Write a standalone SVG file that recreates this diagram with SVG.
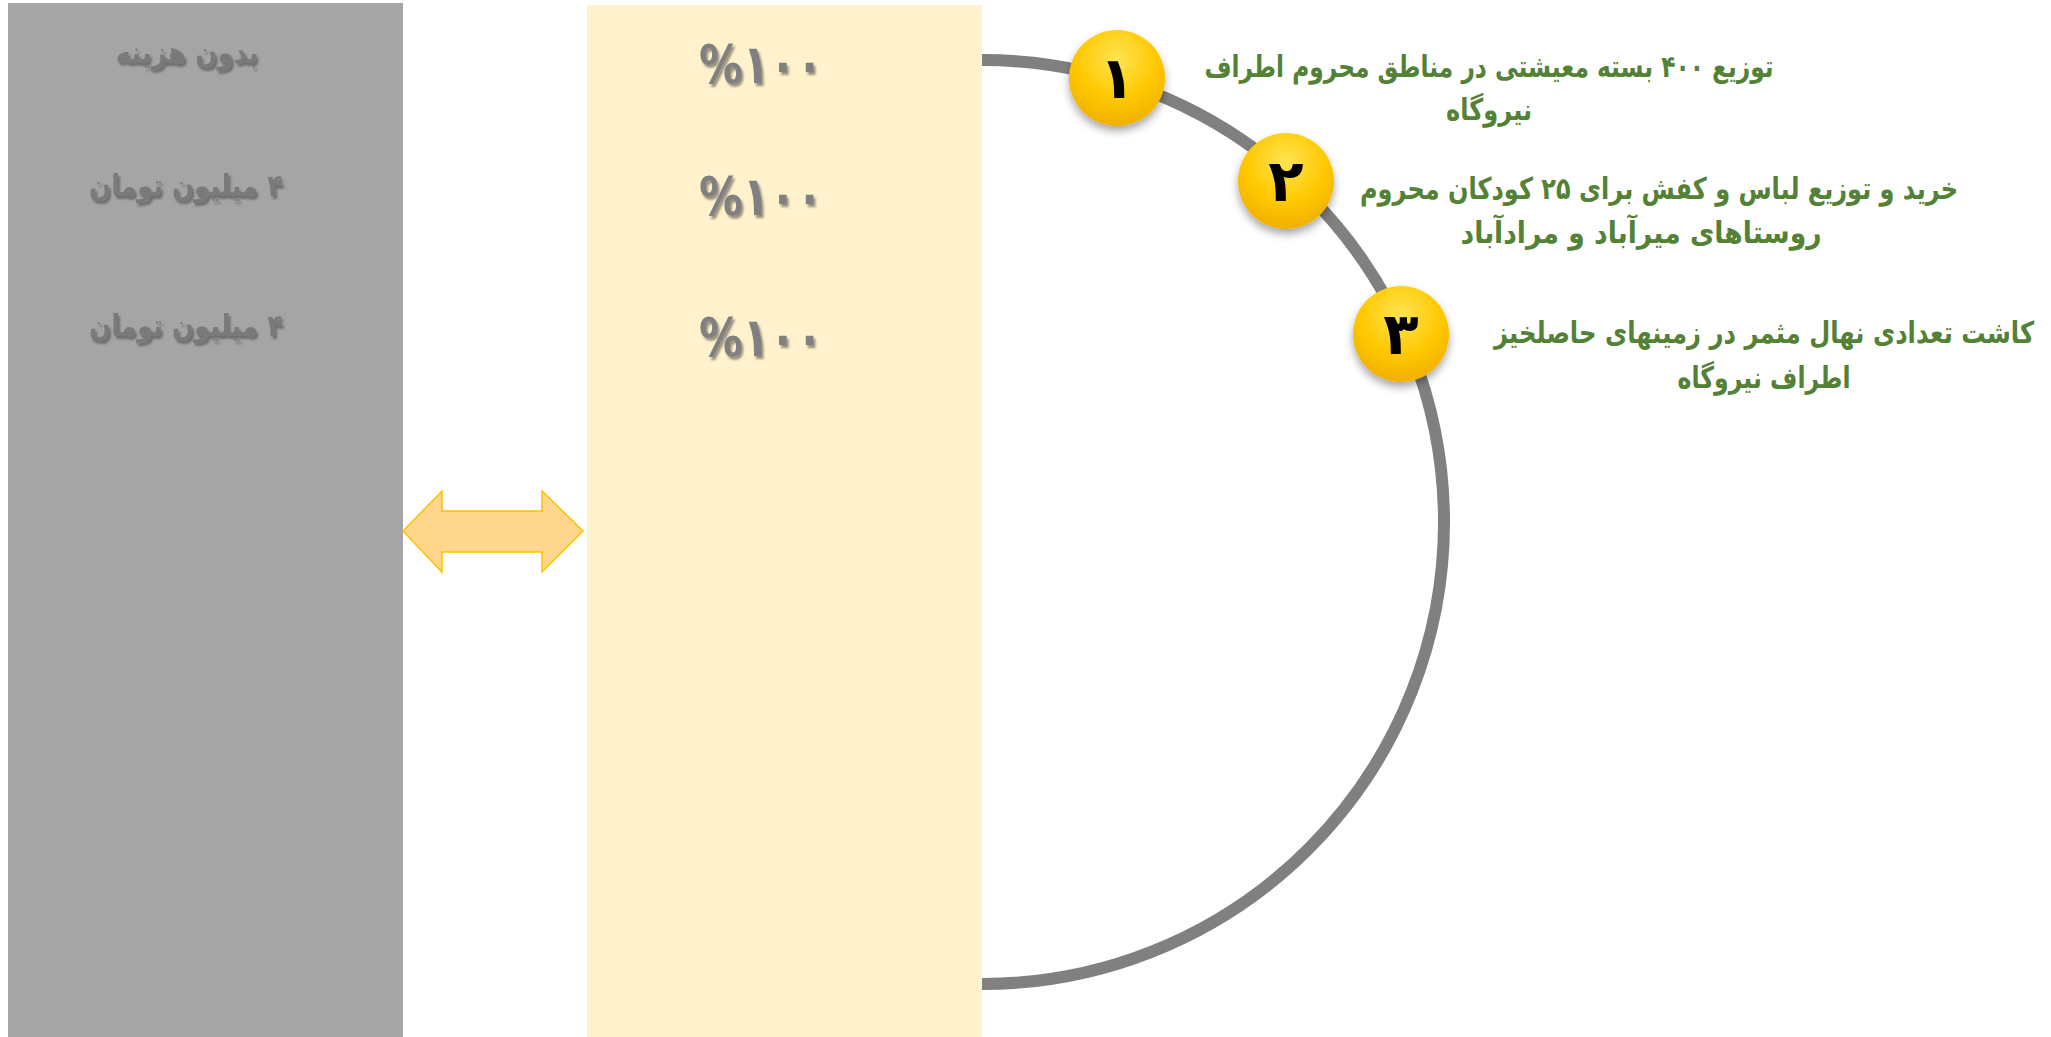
<svg xmlns="http://www.w3.org/2000/svg" width="2051" height="1037" viewBox="0 0 2051 1037">
<style>
.fa{font-family:"DejaVu Sans","Noto Sans",sans-serif;font-weight:bold;}
.cost{fill:#7a7a7a;font-size:30px;text-anchor:middle;}
.pct{fill:#808080;font-size:54px;text-anchor:middle;}
.item{fill:#538135;font-size:30px;text-anchor:middle;}
.num{fill:#000;font-size:58px;text-anchor:middle;}
</style>
<defs>
<filter id="tsh" x="-10%" y="-20%" width="130%" height="150%">
<feDropShadow dx="2" dy="3" stdDeviation="1.2" flood-color="#404040" flood-opacity="0.55"/>
</filter>
<filter id="bsh" x="-30%" y="-30%" width="160%" height="170%">
<feDropShadow dx="0" dy="5" stdDeviation="4" flood-color="#000" flood-opacity="0.35"/>
</filter>
<radialGradient id="ball" cx="50%" cy="30%" r="70%">
<stop offset="0" stop-color="#FFE452"/>
<stop offset="0.6" stop-color="#FFC800"/>
<stop offset="1" stop-color="#F0B000"/>
</radialGradient>
<linearGradient id="arr" x1="0" y1="0" x2="0" y2="1">
<stop offset="0" stop-color="#FFD78C"/>
<stop offset="1" stop-color="#FFD68A"/>
</linearGradient>
</defs>
<rect width="2051" height="1037" fill="#ffffff"/>
<g id="cost-column">
<rect x="8" y="3" width="395" height="1034" fill="#a5a5a5"/>
<text class="fa cost" x="187" y="63" direction="rtl" textLength="143" lengthAdjust="spacingAndGlyphs" filter="url(#tsh)">بدون هزینه</text>
<text class="fa cost" x="186" y="196" direction="rtl" textLength="194" lengthAdjust="spacingAndGlyphs" filter="url(#tsh)">۴ میلیون تومان</text>
<text class="fa cost" x="186" y="336" direction="rtl" textLength="194" lengthAdjust="spacingAndGlyphs" filter="url(#tsh)">۴ میلیون تومان</text>
</g>
<g id="progress-column">
<rect x="587" y="5" width="395" height="1032" fill="#FFF2CC"/>
<text class="fa pct" x="761" y="83" direction="ltr" textLength="124" lengthAdjust="spacingAndGlyphs" filter="url(#tsh)">%۱۰۰</text>
<text class="fa pct" x="761" y="215" direction="ltr" textLength="124" lengthAdjust="spacingAndGlyphs" filter="url(#tsh)">%۱۰۰</text>
<text class="fa pct" x="761" y="356" direction="ltr" textLength="124" lengthAdjust="spacingAndGlyphs" filter="url(#tsh)">%۱۰۰</text>
</g>
<g id="connectors">
<path id="arc" d="M982 60 A462 462 0 0 1 982 984" fill="none" stroke="#808080" stroke-width="12"/>
<path id="double-arrow" d="M403 531 L442 491 L442 511 L542 511 L542 491 L583 531 L542 572 L542 552 L442 552 L442 572 Z" fill="url(#arr)" stroke="#FFC000" stroke-width="1.5"/>
</g>
<g id="item-1">
<circle cx="1117" cy="78" r="48" fill="url(#ball)" filter="url(#bsh)"/>
<text class="fa num" x="1117" y="98">۱</text>
<text class="fa item" x="1489" y="77" direction="rtl" textLength="569" lengthAdjust="spacingAndGlyphs">توزیع ۴۰۰ بسته معیشتی در مناطق محروم اطراف</text>
<text class="fa item" x="1489" y="120" direction="rtl" textLength="86" lengthAdjust="spacingAndGlyphs">نیروگاه</text>
</g>
<g id="item-2">
<circle cx="1286" cy="181" r="48" fill="url(#ball)" filter="url(#bsh)"/>
<text class="fa num" x="1286" y="201">۲</text>
<text class="fa item" x="1659" y="199" direction="rtl" textLength="598" lengthAdjust="spacingAndGlyphs">خرید و توزیع لباس و کفش برای ۲۵ کودکان محروم</text>
<text class="fa item" x="1641" y="243" direction="rtl" textLength="361" lengthAdjust="spacingAndGlyphs">روستاهای میرآباد و مرادآباد</text>
</g>
<g id="item-3">
<circle cx="1401" cy="334" r="48" fill="url(#ball)" filter="url(#bsh)"/>
<text class="fa num" x="1401" y="354">۳</text>
<text class="fa item" x="1764" y="343" direction="rtl" textLength="540" lengthAdjust="spacingAndGlyphs">کاشت تعدادی نهال مثمر در زمینهای حاصلخیز</text>
<text class="fa item" x="1764" y="388" direction="rtl" textLength="173" lengthAdjust="spacingAndGlyphs">اطراف نیروگاه</text>
</g>
</svg>
